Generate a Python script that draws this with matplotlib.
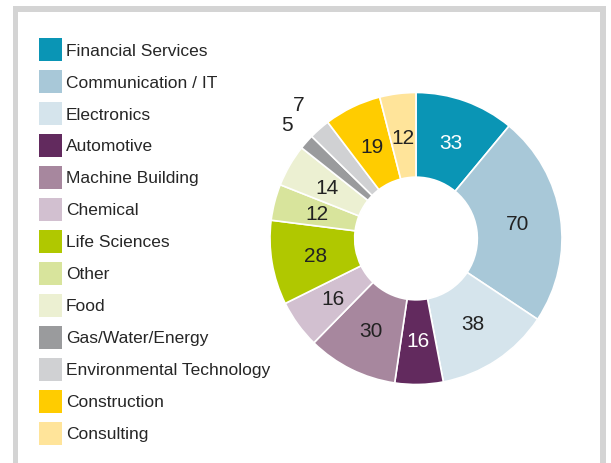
import matplotlib.pyplot as plt
import numpy as np
from matplotlib.patches import Rectangle

plt.rcParams['font.family'] = ['Liberation Sans', 'DejaVu Sans']

categories = ['Financial Services', 'Communication / IT', 'Electronics', 'Automotive',
              'Machine Building', 'Chemical', 'Life Sciences', 'Other', 'Food',
              'Gas/Water/Energy', 'Environmental Technology', 'Construction', 'Consulting']
values = [33, 70, 38, 16, 30, 16, 28, 12, 14, 5, 7, 19, 12]
colors = ['#0a95b5', '#a8c8d8', '#d5e4ec', '#622a5e', '#a7879e', '#d2c0d0', '#b0c800',
          '#d8e49c', '#ecf0d2', '#9a9b9d', '#d0d1d3', '#ffcc00', '#ffe49a']
label_colors = ['white', '#222222', '#222222', 'white', '#222222', '#222222', '#222222',
                '#222222', '#222222', '#222222', '#222222', '#222222', '#222222']
# slices too small, labelled outside the ring (index: radius)
outside = {9: 1.18, 10: 1.22}

W, H = 611, 464
fig = plt.figure(figsize=(W / 100, H / 100), dpi=100)

# background axes in pixel coords: frame + legend
bg = fig.add_axes([0, 0, 1, 1])
bg.set_xlim(0, W)
bg.set_ylim(H, 0)
bg.axis('off')
bg.add_patch(Rectangle((13, 7), 593, 470, facecolor='#d4d4d4', edgecolor='none'))
bg.add_patch(Rectangle((18, 13), 582, 470, facecolor='white', edgecolor='none'))

for i, (name, c) in enumerate(zip(categories, colors)):
    y = 39 + i * 32
    bg.add_patch(Rectangle((39, y), 23, 23, facecolor=c, edgecolor='none'))
    bg.text(66, y + 12, name, fontsize=12.5, color='#262626', va='center', ha='left')

# donut
cx, cy, r = 416, 239.5, 146
ax = fig.add_axes([(cx - r) / W, 1 - (cy + r) / H, 2 * r / W, 2 * r / H])
wedges, _ = ax.pie(values, colors=colors, startangle=90, counterclock=False, radius=1,
                   wedgeprops=dict(width=0.58, edgecolor='white', linewidth=1.2))
ax.set_xlim(-1, 1)
ax.set_ylim(-1, 1)
ax.set_aspect('equal')
ax.axis('off')

for i, w in enumerate(wedges):
    ang = np.deg2rad((w.theta1 + w.theta2) / 2)
    rr = outside.get(i, 0.7)
    ax.text(rr * np.cos(ang), rr * np.sin(ang), str(values[i]), fontsize=15,
            color=label_colors[i], ha='center', va='center', clip_on=False)

fig.savefig('out.png', dpi=100)
